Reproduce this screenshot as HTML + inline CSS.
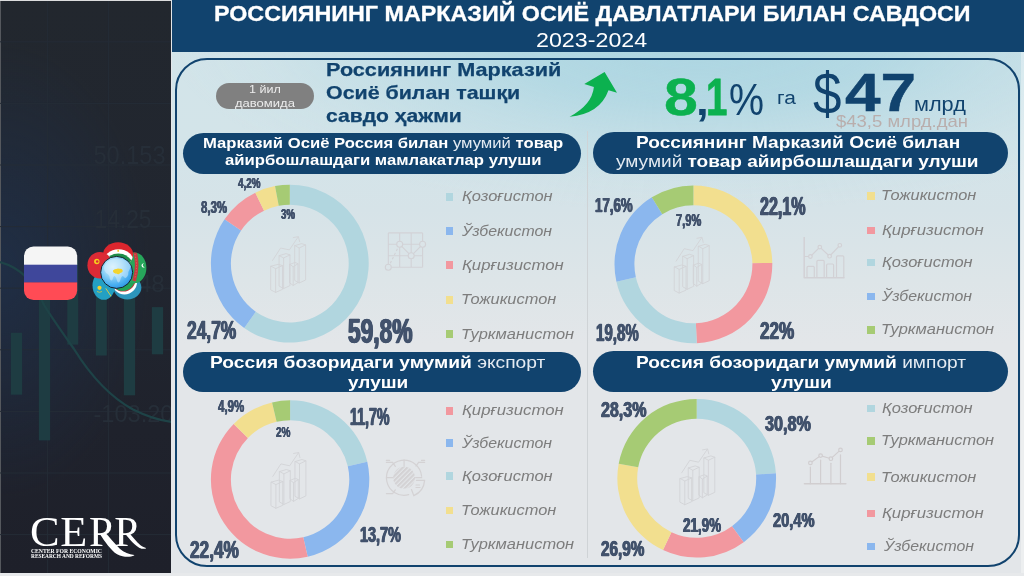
<!DOCTYPE html><html><head><meta charset="utf-8"><title>infographic</title><style>
html,body{margin:0;padding:0;overflow:hidden}body{width:1024px;height:576px;position:relative;overflow:hidden;background:#e3e6e9;font-family:"Liberation Sans",sans-serif}
.a{position:absolute}.pill{position:absolute;background:#11436e;border-radius:21px}
.sq{position:absolute;width:7.8px;height:7.8px}
</style></head><body><div style="position:absolute;left:0;top:0;width:1024px;height:576px;will-change:transform">
<div class="a" style="left:171.5px;top:0;width:852.5px;height:576px;background:radial-gradient(ellipse 530px 172px at 525px 40px,rgba(166,211,224,.88) 0,rgba(167,212,225,.70) 36%,rgba(170,213,226,.40) 58%,rgba(174,215,227,.12) 82%,rgba(176,215,226,0) 100%),linear-gradient(180deg,#d2e4e9 0,#d3e4e9 150px,#d6e3e8 210px,#dde5e8 280px,#e3e6e9 345px,#e3e6e9 100%)"></div>
<div class="a" style="left:1021px;top:52px;width:3px;height:524px;background:rgba(255,255,255,.35)"></div>
<div class="a" style="left:171.5px;top:573px;width:853px;height:3px;background:rgba(255,255,255,.35)"></div>
<div class="a" style="left:0;top:0;width:171.3px;height:576px;background:#dcddde"></div>
<div class="a" style="left:0;top:573.3px;width:1024px;height:3px;background:#e7e9eb"></div>
<div class="a" style="left:0;top:1px;width:171.3px;height:572.3px;background:radial-gradient(ellipse 150px 230px at 0px 270px,rgba(30,54,90,.5) 0,rgba(30,54,90,.25) 50%,rgba(30,54,90,0) 100%),linear-gradient(180deg,#22272e 0,#212630 45%,#1f222c 75%,#1e202a 100%)"></div>
<div class="a" style="left:0;top:1px;width:0.9px;height:572.3px;background:#55585d"></div>
<svg class="a" style="left:0;top:0" width="171.3" height="573.3" viewBox="0 0 171.3 573.3"><g stroke="#242c36" stroke-width="1"><path d="M47.6,1V573"/><path d="M108.4,1V573"/><path d="M0,41.8H171"/><path d="M0,103.4H171"/><path d="M0,165.0H171"/><path d="M0,226.6H171"/><path d="M0,288.2H171"/><path d="M0,349.8H171"/><path d="M0,411.4H171"/><path d="M0,473.0H171"/><path d="M0,534.6H171"/></g>
<g font-family="'Liberation Sans',sans-serif" fill="#262e38" font-size="25"><text x="93.5" y="163.9" textLength="72" lengthAdjust="spacingAndGlyphs">50.153</text><text x="94.5" y="228.5" textLength="57" lengthAdjust="spacingAndGlyphs">14.25</text><text x="138" y="292" font-size="24">48</text><text x="93.5" y="422.5" font-size="23" textLength="80" lengthAdjust="spacingAndGlyphs">-103.20</text></g>
<rect x="10.9" y="332.8" width="11.2" height="61.9" fill="#1e3c42"/>
<rect x="38.9" y="255.0" width="11.2" height="185.4" fill="#1e3c42"/>
<rect x="67.3" y="260.0" width="10.9" height="84.6" fill="#1e3c42"/>
<rect x="95.9" y="262.0" width="10.9" height="93.5" fill="#1e3c42"/>
<rect x="123.9" y="270.0" width="11.2" height="125.3" fill="#1e3c42"/>
<rect x="151.9" y="307.1" width="11.2" height="47.2" fill="#1e3c42"/>
<path d="M0,262 C22,268 36,285 44,305 C52,318 62,332 74,349 C92,378 112,398 133,409.5 C148,417 160,420.5 172,422" fill="none" stroke="#1e4347" stroke-width="2.3"/>
<clipPath id="fl"><rect x="24" y="246.5" width="53.2" height="53.6" rx="9.5"/></clipPath><g clip-path="url(#fl)"><rect x="24" y="246" width="54" height="19" fill="#f5f5f5"/><rect x="24" y="264.7" width="54" height="18" fill="#3f479b"/><rect x="24" y="282.4" width="54" height="18" fill="#ff4b55"/></g>
<clipPath id="pu"><ellipse cx="127.4" cy="287.6" rx="14" ry="11.8"/></clipPath><g clip-path="url(#pu)"><rect x="110" y="270" width="36" height="36" fill="#2c95bb"/><circle cx="124.5" cy="281.8" r="12.6" fill="#fff"/><circle cx="123.2" cy="279.2" r="12.4" fill="#c8343c"/><circle cx="122.8" cy="278.6" r="12.3" fill="#23a257"/></g>
<clipPath id="pk"><ellipse cx="103.8" cy="285.6" rx="11.3" ry="14.2"/></clipPath><g clip-path="url(#pk)"><rect x="88" y="270" width="32" height="32" fill="#24a0c3"/><circle cx="99.5" cy="287.8" r="2.1" fill="#f4d32b"/><path d="M97,291.5 q2.5,1.6 5,0" stroke="#f4d32b" stroke-width="0.7" fill="none"/><path d="M105.8,288.4 L112,297.6" stroke="#e8d03a" stroke-width="0.9" fill="none"/></g>
<clipPath id="pt"><ellipse cx="134.4" cy="267.8" rx="12" ry="15.4"/></clipPath><g clip-path="url(#pt)"><rect x="120" y="252" width="30" height="32" fill="#27a65b"/><path d="M134.6,251 q4.5,14 -0.5,30" stroke="#c8383e" stroke-width="3.6" fill="none"/><path d="M134.9,254 q3.2,12 0,24" stroke="#e07a70" stroke-width="0.8" stroke-dasharray="1.2 1.6" fill="none"/><path d="M144.2,263.6 a2,2 0 1 0 0.6,3.4 a1.6,1.6 0 1 1 -0.6,-3.4z" fill="#fff"/></g>
<clipPath id="pj"><ellipse cx="118.1" cy="254.6" rx="15" ry="12.4"/></clipPath><g clip-path="url(#pj)"><rect x="100" y="240" width="36" height="34" fill="#dc262e"/><ellipse cx="118.6" cy="262.8" rx="15.5" ry="13.6" fill="#fff"/><ellipse cx="118.4" cy="266.6" rx="14.6" ry="13" fill="#1e8d49"/><path d="M117.4,250.6 l0.8,-1.4 l0.8,1.4z" fill="#f0c419"/><circle cx="118.2" cy="250.9" r="0.9" fill="#f0c419"/></g>
<clipPath id="pg"><ellipse cx="99.8" cy="265.2" rx="12.4" ry="13.3"/></clipPath><g clip-path="url(#pg)"><rect x="84" y="250" width="32" height="32" fill="#dc2a35"/><circle cx="96.8" cy="261.5" r="2.7" fill="#f6d01c"/><circle cx="97.2" cy="261.5" r="1.3" fill="#dc2a35"/></g>
<radialGradient id="gl" cx="0.38" cy="0.33" r="0.8"><stop offset="0" stop-color="#d6f1fd"/><stop offset="0.35" stop-color="#9bd8f8"/><stop offset="0.7" stop-color="#48aef0"/><stop offset="1" stop-color="#1c87de"/></radialGradient><circle cx="116.66" cy="272.4" r="16" fill="url(#gl)" stroke="#17222a" stroke-width="1"/><path d="M104.2,266.5 q1.5,-4.5 6,-6.5 q5,-2.5 10.5,-1.2 q6,1 9.5,5.5 q1.2,2.5 -0.5,5 q-1.8,2.5 -1.5,5.5 q-1,3 -3.2,3.5 q-0.8,-2 -2.8,-2.3 q-1.8,2 -2.2,5 q-1.2,2.8 -2.8,0.2 q-0.6,-3.2 -2.6,-5.4 q-1.6,0.8 -2,3.6 q-1.6,2.6 -2.8,-0.6 q0.2,-3 -1.8,-4.6 q-2.6,-1.4 -3.6,-4 q-0.6,-2 -0.2,-3.7z" fill="#e4f5fe" opacity="0.45"/><path d="M113,270.6 q1.2,-1.8 3.4,-1.6 q1.4,-1 2.8,-0.2 q2.4,-0.4 3.4,1.2 q0.6,1.6 -1,2.6 q-1.6,0.4 -2.4,1.4 q-1.6,0.8 -2.6,-0.4 q-1.8,0.2 -2.8,-0.8 q-1,-1 -0.8,-2.2z" fill="#f3d42f"/>
<g fill="#fff" font-family="'Liberation Serif',serif"><text y="546.2" font-size="43"><tspan x="29.9" textLength="29.6" lengthAdjust="spacingAndGlyphs">C</tspan><tspan x="60.3" textLength="27" lengthAdjust="spacingAndGlyphs">E</tspan><tspan x="88.9">P</tspan><tspan x="114.2">P</tspan></text><path d="M104.9,532.6 C109,536.5 114,543 119.8,548.8 C124,552.5 129,554.5 134.2,554.9 L134.2,555.4 C130,557.2 124,557.5 117.1,554.2 C111,550.5 104.5,541 99.9,533.9 Z"/><path d="M129.7,533.6 C132.5,537 136.5,542 140.5,545.2 C142.5,546.6 144.5,547.5 146,547.9 L146,548.6 C143.5,549 141,548.7 139.6,547.9 C136,546 129.5,539.5 125.6,534.2 Z"/><rect x="30" y="548" width="73" height="11.3" fill="#1f222c"/><text x="31" y="552.8" font-size="6.3" font-weight="700" textLength="71" lengthAdjust="spacingAndGlyphs">CENTER FOR ECONOMIC</text><text x="31" y="558.4" font-size="6.3" font-weight="700" textLength="71" lengthAdjust="spacingAndGlyphs">RESEARCH AND REFORMS</text></g></svg>
<div class="a" style="left:171.5px;top:0;width:852.5px;height:51.7px;background:#11436e"></div>
<div class="a" style="left:174.6px;top:58px;width:841.7px;height:505.3px;border:2px solid #11436e;border-radius:32px"></div>
<div class="a" style="left:587.3px;top:131px;width:1px;height:427px;background:#cfd3d6"></div>
<div class="a" style="left:215.5px;top:82.9px;width:98.4px;height:26.4px;border-radius:13.2px;background:#808080"></div>
<div class="pill" style="left:183.2px;top:132.8px;width:397.6px;height:40.8px"></div>
<div class="pill" style="left:593.2px;top:132.1px;width:414.4px;height:41.6px"></div>
<div class="pill" style="left:182.6px;top:352.2px;width:398.6px;height:40.1px"></div>
<div class="pill" style="left:593.2px;top:351.2px;width:414.4px;height:40.8px"></div>
<svg class="a" style="left:0;top:0" width="1024" height="576" viewBox="0 0 1024 576"><path d="M289.80,184.70 A78.90,78.90 0 1 1 244.23,328.01 L255.78,311.68 A58.90,58.90 0 1 0 289.80,204.70 Z" fill="#b1d6df"/>
<path d="M244.23,328.01 A78.90,78.90 0 0 1 224.54,219.25 L241.08,230.49 A58.90,58.90 0 0 0 255.78,311.68 Z" fill="#8bb7ee"/>
<path d="M224.54,219.25 A78.90,78.90 0 0 1 255.31,192.64 L264.05,210.63 A58.90,58.90 0 0 0 241.08,230.49 Z" fill="#f2989f"/>
<path d="M255.31,192.64 A78.90,78.90 0 0 1 275.02,186.10 L278.76,205.74 A58.90,58.90 0 0 0 264.05,210.63 Z" fill="#f2df8f"/>
<path d="M275.02,186.10 A78.90,78.90 0 0 1 289.80,184.70 L289.80,204.70 A58.90,58.90 0 0 0 278.76,205.74 Z" fill="#a6cb74"/>
<path d="M693.40,185.40 A78.90,78.90 0 0 1 772.29,262.91 L752.39,263.26 A59.00,59.00 0 0 0 693.40,205.30 Z" fill="#f2df8f"/>
<path d="M772.29,262.91 A78.90,78.90 0 0 1 696.73,343.13 L695.89,323.25 A59.00,59.00 0 0 0 752.39,263.26 Z" fill="#f2989f"/>
<path d="M696.73,343.13 A78.90,78.90 0 0 1 616.43,281.63 L635.84,277.26 A59.00,59.00 0 0 0 695.89,323.25 Z" fill="#b1d6df"/>
<path d="M616.43,281.63 A78.90,78.90 0 0 1 651.81,197.25 L662.30,214.16 A59.00,59.00 0 0 0 635.84,277.26 Z" fill="#8bb7ee"/>
<path d="M651.81,197.25 A78.90,78.90 0 0 1 693.40,185.40 L693.40,205.30 A59.00,59.00 0 0 0 662.30,214.16 Z" fill="#a6cb74"/>
<path d="M290.10,400.30 A79.20,79.20 0 0 1 367.27,461.69 L347.78,466.18 A59.20,59.20 0 0 0 290.10,420.30 Z" fill="#b1d6df"/>
<path d="M367.27,461.69 A79.20,79.20 0 0 1 307.69,556.72 L303.25,537.22 A59.20,59.20 0 0 0 347.78,466.18 Z" fill="#8bb7ee"/>
<path d="M307.69,556.72 A79.20,79.20 0 0 1 233.70,423.90 L247.94,437.94 A59.20,59.20 0 0 0 303.25,537.22 Z" fill="#f2989f"/>
<path d="M233.70,423.90 A79.20,79.20 0 0 1 272.06,402.38 L276.62,421.86 A59.20,59.20 0 0 0 247.94,437.94 Z" fill="#f2df8f"/>
<path d="M272.06,402.38 A79.20,79.20 0 0 1 290.10,400.30 L290.10,420.30 A59.20,59.20 0 0 0 276.62,421.86 Z" fill="#a6cb74"/>
<path d="M696.70,398.90 A79.35,79.35 0 0 1 775.90,473.30 L756.08,474.54 A59.50,59.50 0 0 0 696.70,418.75 Z" fill="#b1d6df"/>
<path d="M775.90,473.30 A79.35,79.35 0 0 1 743.72,542.17 L731.96,526.18 A59.50,59.50 0 0 0 756.08,474.54 Z" fill="#8bb7ee"/>
<path d="M743.72,542.17 A79.35,79.35 0 0 1 663.02,550.10 L671.45,532.13 A59.50,59.50 0 0 0 731.96,526.18 Z" fill="#f2989f"/>
<path d="M663.02,550.10 A79.35,79.35 0 0 1 618.70,463.66 L638.21,467.31 A59.50,59.50 0 0 0 671.45,532.13 Z" fill="#f2df8f"/>
<path d="M618.70,463.66 A79.35,79.35 0 0 1 696.70,398.90 L696.70,418.75 A59.50,59.50 0 0 0 638.21,467.31 Z" fill="#a6cb74"/>
<g transform="translate(289.8,263.6)" fill="none" stroke="#d3d4d7" stroke-width="0.9" stroke-linejoin="round" stroke-linecap="round"><path d="M5.2,-18.0 L9.4,-15.6 L9.4,19.4 L5.2,17.0 Z"/><path d="M9.4,-15.6 L15.8,-18.7 L15.8,16.4 L9.4,19.4"/><path d="M5.2,-18.0 L11.8,-20.0 L15.8,-18.7"/><path d="M0.2,0.8 L3.4,3.2 L3.4,21.9 L0.2,19.5 Z"/><path d="M3.4,3.2 L8.2,0.1 L8.2,18.9 L3.4,21.9"/><path d="M0.2,0.8 L5.2,-1.2 L8.2,0.1"/><path d="M-10.4,-8.0 L-6.2,-5.6 L-6.2,25.0 L-10.4,22.6 Z"/><path d="M-6.2,-5.6 L0.2,-8.7 L0.2,22.0 L-6.2,25.0"/><path d="M-10.4,-8.0 L-3.8,-10.0 L0.2,-8.7"/><path d="M-18.8,2.6 L-14.2,5.1 L-14.2,28.8 L-18.8,26.4 Z"/><path d="M-14.2,5.1 L-7.3,2.0 L-7.3,25.8 L-14.2,28.8"/><path d="M-18.8,2.6 L-11.7,0.7 L-7.3,2.0"/><path d="M-17.3,-3.1 L-9.2,-15.6 L-0.4,-13.7 L8.3,-26.6"/><path d="M3.5,-26 L8.6,-27 L9.8,-22"/></g>
<g transform="translate(693.4,264.3)" fill="none" stroke="#d3d4d7" stroke-width="0.9" stroke-linejoin="round" stroke-linecap="round"><path d="M5.2,-18.0 L9.4,-15.6 L9.4,19.4 L5.2,17.0 Z"/><path d="M9.4,-15.6 L15.8,-18.7 L15.8,16.4 L9.4,19.4"/><path d="M5.2,-18.0 L11.8,-20.0 L15.8,-18.7"/><path d="M0.2,0.8 L3.4,3.2 L3.4,21.9 L0.2,19.5 Z"/><path d="M3.4,3.2 L8.2,0.1 L8.2,18.9 L3.4,21.9"/><path d="M0.2,0.8 L5.2,-1.2 L8.2,0.1"/><path d="M-10.4,-8.0 L-6.2,-5.6 L-6.2,25.0 L-10.4,22.6 Z"/><path d="M-6.2,-5.6 L0.2,-8.7 L0.2,22.0 L-6.2,25.0"/><path d="M-10.4,-8.0 L-3.8,-10.0 L0.2,-8.7"/><path d="M-18.8,2.6 L-14.2,5.1 L-14.2,28.8 L-18.8,26.4 Z"/><path d="M-14.2,5.1 L-7.3,2.0 L-7.3,25.8 L-14.2,28.8"/><path d="M-18.8,2.6 L-11.7,0.7 L-7.3,2.0"/><path d="M-17.3,-3.1 L-9.2,-15.6 L-0.4,-13.7 L8.3,-26.6"/><path d="M3.5,-26 L8.6,-27 L9.8,-22"/></g>
<g transform="translate(290.1,479.5)" fill="none" stroke="#d3d4d7" stroke-width="0.9" stroke-linejoin="round" stroke-linecap="round"><path d="M5.2,-18.0 L9.4,-15.6 L9.4,19.4 L5.2,17.0 Z"/><path d="M9.4,-15.6 L15.8,-18.7 L15.8,16.4 L9.4,19.4"/><path d="M5.2,-18.0 L11.8,-20.0 L15.8,-18.7"/><path d="M0.2,0.8 L3.4,3.2 L3.4,21.9 L0.2,19.5 Z"/><path d="M3.4,3.2 L8.2,0.1 L8.2,18.9 L3.4,21.9"/><path d="M0.2,0.8 L5.2,-1.2 L8.2,0.1"/><path d="M-10.4,-8.0 L-6.2,-5.6 L-6.2,25.0 L-10.4,22.6 Z"/><path d="M-6.2,-5.6 L0.2,-8.7 L0.2,22.0 L-6.2,25.0"/><path d="M-10.4,-8.0 L-3.8,-10.0 L0.2,-8.7"/><path d="M-18.8,2.6 L-14.2,5.1 L-14.2,28.8 L-18.8,26.4 Z"/><path d="M-14.2,5.1 L-7.3,2.0 L-7.3,25.8 L-14.2,28.8"/><path d="M-18.8,2.6 L-11.7,0.7 L-7.3,2.0"/><path d="M-17.3,-3.1 L-9.2,-15.6 L-0.4,-13.7 L8.3,-26.6"/><path d="M3.5,-26 L8.6,-27 L9.8,-22"/></g>
<g transform="translate(699.0,475.9)" fill="none" stroke="#d3d4d7" stroke-width="0.9" stroke-linejoin="round" stroke-linecap="round"><path d="M5.2,-18.0 L9.4,-15.6 L9.4,19.4 L5.2,17.0 Z"/><path d="M9.4,-15.6 L15.8,-18.7 L15.8,16.4 L9.4,19.4"/><path d="M5.2,-18.0 L11.8,-20.0 L15.8,-18.7"/><path d="M0.2,0.8 L3.4,3.2 L3.4,21.9 L0.2,19.5 Z"/><path d="M3.4,3.2 L8.2,0.1 L8.2,18.9 L3.4,21.9"/><path d="M0.2,0.8 L5.2,-1.2 L8.2,0.1"/><path d="M-10.4,-8.0 L-6.2,-5.6 L-6.2,25.0 L-10.4,22.6 Z"/><path d="M-6.2,-5.6 L0.2,-8.7 L0.2,22.0 L-6.2,25.0"/><path d="M-10.4,-8.0 L-3.8,-10.0 L0.2,-8.7"/><path d="M-18.8,2.6 L-14.2,5.1 L-14.2,28.8 L-18.8,26.4 Z"/><path d="M-14.2,5.1 L-7.3,2.0 L-7.3,25.8 L-14.2,28.8"/><path d="M-18.8,2.6 L-11.7,0.7 L-7.3,2.0"/><path d="M-17.3,-3.1 L-9.2,-15.6 L-0.4,-13.7 L8.3,-26.6"/><path d="M3.5,-26 L8.6,-27 L9.8,-22"/></g>
<g fill="none" stroke="#d2d2d6" stroke-width="1.1"><path d="M388.3,232.9V267.2M388.3,232.9H422.6M399.7,232.9V267.2M388.3,244.3H422.6M411.2,232.9V267.2M388.3,255.8H422.6M422.6,232.9V267.2M388.3,267.2H422.6"/><path d="M388.3,267.2 L399.7,244.3" stroke-dasharray="2.5 2"/><path d="M399.7,244.3 L411.2,255.8 L422.6,244.3"/><circle cx="388.3" cy="267.2" r="3" fill="#dbe4e8"/><circle cx="399.7" cy="244.3" r="3" fill="#dbe4e8"/><circle cx="411.2" cy="255.8" r="3" fill="#dbe4e8"/><circle cx="422.6" cy="244.3" r="3" fill="#dbe4e8"/></g>
<g fill="none" stroke="#d2d1d5" stroke-width="1.2" stroke-linejoin="round"><path d="M804.2,236.9V277.8H844.5" stroke-width="1.5"/><path d="M807.0,277.8V267.6q0,-1.2 1.2,-1.2H813.1q1.2,0 1.2,1.2V277.8"/><path d="M816.9,277.8V261.6q0,-1.2 1.2,-1.2H823.0q1.2,0 1.2,1.2V277.8"/><path d="M826.6,277.8V265.2q0,-1.2 1.2,-1.2H832.4q1.2,0 1.2,1.2V277.8"/><path d="M836.5,277.8V257.1q0,-1.2 1.2,-1.2H842.6q1.2,0 1.2,1.2V277.8"/><path d="M804.2,256.5 L810.4,256.5 L819.8,247.1 L829.6,256.2 L839.8,245.3"/><circle cx="810.4" cy="256.5" r="1.8" fill="#dde5e8"/><circle cx="819.8" cy="247.1" r="1.8" fill="#dde5e8"/><circle cx="829.6" cy="256.2" r="1.8" fill="#dde5e8"/><circle cx="839.8" cy="245.3" r="1.8" fill="#dde5e8"/></g>
<g fill="none" stroke="#d4d2d4" stroke-width="1.2" stroke-linecap="round"><defs><pattern id="hat" width="3.2" height="3.2" patternUnits="userSpaceOnUse" patternTransform="rotate(-45)"><rect width="3.2" height="1.5" fill="#d3d2d5"/></pattern></defs><circle cx="404.1" cy="477.7" r="10.9" fill="url(#hat)" stroke="none"/><path d="M421.6,476.2 A17.6,17.6 0 1 0 408.7,494.7"/><path d="M404.1,460.1V466.2 M386.5,477.7H392.6 M415.6,477.7H421.7"/><path d="M411.5,489.5 L413.8,495.6 A18,18 0 0 0 424.6,480.4 L416.5,480.4"/><path d="M386.4,460.4H389.6 M386.4,462.4H392.6L395.3,466.4 M421.5,460.4H424.6 M418.6,462.4H424.6 M418.6,462.4L416,466 M386.4,493.6H392.6L395.3,489.8 M416,485H419.5 M416,487.5H420"/></g>
<g fill="none" stroke="#d1ced0" stroke-width="1.2" stroke-linecap="round"><path d="M804.5,483.7H845.8" stroke-width="1.6"/><path d="M810.4,467.2V483.7"/><path d="M820.6,460.2V483.7"/><path d="M830.9,463.3V483.7"/><path d="M840.5,454.8V483.7"/><path d="M810.4,462.9 L820.6,455.6 L830.9,458.7 L840.5,449.9"/><circle cx="810.4" cy="462.9" r="1.8" fill="#e2e5e8"/><circle cx="820.6" cy="455.6" r="1.8" fill="#e2e5e8"/><circle cx="830.9" cy="458.7" r="1.8" fill="#e2e5e8"/><circle cx="840.5" cy="449.9" r="1.8" fill="#e2e5e8"/></g>
<path d="M604.6,71.9 L617,92.7 L608.5,90.3 Q600,114 569.6,116.8 Q592,105 593.9,87.1 L584.3,83.9 Z" fill="#0cb14f"/></svg>
<div class="sq" style="left:445.7px;top:192.8px;background:#b1d6df"></div>
<div class="sq" style="left:445.7px;top:227.3px;background:#8bb7ee"></div>
<div class="sq" style="left:445.7px;top:261.3px;background:#f2989f"></div>
<div class="sq" style="left:445.7px;top:296.1px;background:#f2df8f"></div>
<div class="sq" style="left:445.7px;top:330.4px;background:#a6cb74"></div>
<div class="sq" style="left:867.0px;top:192.1px;background:#f2df8f"></div>
<div class="sq" style="left:867.0px;top:226.7px;background:#f2989f"></div>
<div class="sq" style="left:867.0px;top:258.6px;background:#b1d6df"></div>
<div class="sq" style="left:867.0px;top:292.6px;background:#8bb7ee"></div>
<div class="sq" style="left:867.0px;top:326.0px;background:#a6cb74"></div>
<div class="sq" style="left:445.7px;top:406.9px;background:#f2989f"></div>
<div class="sq" style="left:445.7px;top:439.4px;background:#8bb7ee"></div>
<div class="sq" style="left:445.7px;top:472.4px;background:#b1d6df"></div>
<div class="sq" style="left:445.7px;top:506.7px;background:#f2df8f"></div>
<div class="sq" style="left:445.7px;top:540.7px;background:#a6cb74"></div>
<div class="sq" style="left:867.0px;top:404.5px;background:#b1d6df"></div>
<div class="sq" style="left:867.0px;top:437.0px;background:#a6cb74"></div>
<div class="sq" style="left:867.0px;top:473.3px;background:#f2df8f"></div>
<div class="sq" style="left:867.0px;top:509.6px;background:#f2989f"></div>
<div class="sq" style="left:867.0px;top:542.7px;background:#8bb7ee"></div>
<span style="position:absolute;white-space:nowrap;line-height:1;transform-origin:0 0;left:213.53px;top:2.70px;font-family:'Liberation Sans',sans-serif;font-size:21.80px;font-weight:700;color:#fff;-webkit-text-stroke:0.30px #fff;transform:scaleX(1.0686);">РОССИЯНИНГ МАРКАЗИЙ ОСИЁ ДАВЛАТЛАРИ БИЛАН САВДОСИ</span>
<span style="position:absolute;white-space:nowrap;line-height:1;transform-origin:0 0;left:535.87px;top:29.50px;font-family:'Liberation Sans',sans-serif;font-size:20.50px;font-weight:400;color:#fff;transform:scaleX(1.1340);">2023-2024</span>
<span style="position:absolute;white-space:nowrap;line-height:1;transform-origin:0 0;left:248.72px;top:82.50px;font-family:'Liberation Sans',sans-serif;font-size:11.70px;font-weight:400;color:#ececec;transform:scaleX(1.0786);">1 йил</span>
<span style="position:absolute;white-space:nowrap;line-height:1;transform-origin:0 0;left:234.80px;top:96.50px;font-family:'Liberation Sans',sans-serif;font-size:11.70px;font-weight:400;color:#ececec;transform:scaleX(1.1148);">давомида</span>
<span style="position:absolute;white-space:nowrap;line-height:1;transform-origin:0 0;left:325.53px;top:61.30px;font-family:'Liberation Sans',sans-serif;font-size:18.50px;font-weight:700;color:#11436e;-webkit-text-stroke:0.25px #11436e;transform:scaleX(1.1693);">Россиянинг Марказий</span>
<span style="position:absolute;white-space:nowrap;line-height:1;transform-origin:0 0;left:325.54px;top:84.40px;font-family:'Liberation Sans',sans-serif;font-size:18.50px;font-weight:700;color:#11436e;-webkit-text-stroke:0.25px #11436e;transform:scaleX(1.1560);">Осиё билан ташқи</span>
<span style="position:absolute;white-space:nowrap;line-height:1;transform-origin:0 0;left:325.56px;top:107.00px;font-family:'Liberation Sans',sans-serif;font-size:18.50px;font-weight:700;color:#11436e;-webkit-text-stroke:0.25px #11436e;transform:scaleX(1.1393);">савдо ҳажми</span>
<span style="position:absolute;white-space:nowrap;line-height:1;transform-origin:0 0;left:664.34px;top:70.80px;font-family:'Liberation Sans',sans-serif;font-size:52.50px;font-weight:700;color:#0cb14f;-webkit-text-stroke:0.40px #0cb14f;transform:scaleX(1.1593);">8</span>
<span style="position:absolute;white-space:nowrap;line-height:1;transform-origin:0 0;left:696.25px;top:80.80px;font-family:'Liberation Sans',sans-serif;font-size:41.00px;font-weight:700;color:#11436e;transform:scaleX(1.1167);">,</span>
<span style="position:absolute;white-space:nowrap;line-height:1;transform-origin:0 0;left:705.80px;top:70.80px;font-family:'Liberation Sans',sans-serif;font-size:52.50px;font-weight:700;color:#0cb14f;-webkit-text-stroke:0.80px #0cb14f;transform:scaleX(0.7320);">1</span>
<span style="position:absolute;white-space:nowrap;line-height:1;transform-origin:0 0;left:728.81px;top:77.80px;font-family:'Liberation Sans',sans-serif;font-size:44.00px;font-weight:400;color:#11436e;transform:scaleX(0.8944);">%</span>
<span style="position:absolute;white-space:nowrap;line-height:1;transform-origin:0 0;left:777.04px;top:89.00px;font-family:'Liberation Sans',sans-serif;font-size:18.00px;font-weight:400;color:#11436e;transform:scaleX(1.1600);">га</span>
<span style="position:absolute;white-space:nowrap;line-height:1;transform-origin:0 0;left:812.83px;top:65.00px;font-family:'Liberation Sans',sans-serif;font-size:58.50px;font-weight:400;color:#11436e;transform:scaleX(0.8742);">$</span>
<span style="position:absolute;white-space:nowrap;line-height:1;transform-origin:0 0;left:844.50px;top:66.30px;font-family:'Liberation Sans',sans-serif;font-size:53.50px;font-weight:700;color:#11436e;-webkit-text-stroke:0.50px #11436e;transform:scaleX(1.1948);">47</span>
<span style="position:absolute;white-space:nowrap;line-height:1;transform-origin:0 0;left:913.74px;top:94.30px;font-family:'Liberation Sans',sans-serif;font-size:20.50px;font-weight:400;color:#11436e;transform:scaleX(1.0583);">млрд</span>
<span style="position:absolute;white-space:nowrap;line-height:1;transform-origin:0 0;left:836.10px;top:112.90px;font-family:'Liberation Sans',sans-serif;font-size:17.00px;font-weight:400;color:#b9aead;transform:scaleX(1.0875);">$43,5 млрд.дан</span>
<span style="position:absolute;white-space:nowrap;line-height:1;transform-origin:0 0;left:203.13px;top:135.60px;font-family:'Liberation Sans',sans-serif;font-size:14.20px;font-weight:700;color:#fff;transform:scaleX(1.1741);">Марказий Осиё Россия билан <span style="font-weight:400;color:#e4ebf2">умумий</span> товар</span>
<span style="position:absolute;white-space:nowrap;line-height:1;transform-origin:0 0;left:225.00px;top:152.80px;font-family:'Liberation Sans',sans-serif;font-size:14.20px;font-weight:700;color:#fff;transform:scaleX(1.1754);">айирбошлашдаги мамлакатлар улуши</span>
<span style="position:absolute;white-space:nowrap;line-height:1;transform-origin:0 0;left:635.58px;top:134.50px;font-family:'Liberation Sans',sans-serif;font-size:15.70px;font-weight:700;color:#fff;transform:scaleX(1.2182);">Россиянинг Марказий Осиё билан</span>
<span style="position:absolute;white-space:nowrap;line-height:1;transform-origin:0 0;left:616.20px;top:153.80px;font-family:'Liberation Sans',sans-serif;font-size:15.70px;font-weight:700;color:#fff;transform:scaleX(1.2134);"><span style="font-weight:400;color:#e4ebf2">умумий</span> товар айирбошлашдаги улуши</span>
<span style="position:absolute;white-space:nowrap;line-height:1;transform-origin:0 0;left:209.78px;top:354.60px;font-family:'Liberation Sans',sans-serif;font-size:15.70px;font-weight:700;color:#fff;transform:scaleX(1.2242);">Россия бозоридаги умумий <span style="font-weight:400;color:#e4ebf2">экспорт</span></span>
<span style="position:absolute;white-space:nowrap;line-height:1;transform-origin:0 0;left:348.30px;top:375.00px;font-family:'Liberation Sans',sans-serif;font-size:15.70px;font-weight:700;color:#fff;transform:scaleX(1.2122);">улуши</span>
<span style="position:absolute;white-space:nowrap;line-height:1;transform-origin:0 0;left:636.08px;top:354.60px;font-family:'Liberation Sans',sans-serif;font-size:15.70px;font-weight:700;color:#fff;transform:scaleX(1.2196);">Россия бозоридаги умумий <span style="font-weight:400;color:#e4ebf2">импорт</span></span>
<span style="position:absolute;white-space:nowrap;line-height:1;transform-origin:0 0;left:771.40px;top:375.00px;font-family:'Liberation Sans',sans-serif;font-size:15.70px;font-weight:700;color:#fff;transform:scaleX(1.2224);">улуши</span>
<span style="position:absolute;white-space:nowrap;line-height:1;transform-origin:0 0;left:461.60px;top:188.00px;font-family:'Liberation Sans',sans-serif;font-size:15.00px;font-weight:400;color:#7d7d7d;font-style:italic;transform:scaleX(1.0976);">Қозоғистон</span>
<span style="position:absolute;white-space:nowrap;line-height:1;transform-origin:0 0;left:461.60px;top:222.50px;font-family:'Liberation Sans',sans-serif;font-size:15.00px;font-weight:400;color:#7d7d7d;font-style:italic;transform:scaleX(1.0588);">Ўзбекистон</span>
<span style="position:absolute;white-space:nowrap;line-height:1;transform-origin:0 0;left:461.60px;top:256.50px;font-family:'Liberation Sans',sans-serif;font-size:15.00px;font-weight:400;color:#7d7d7d;font-style:italic;transform:scaleX(1.1143);">Қирғизистон</span>
<span style="position:absolute;white-space:nowrap;line-height:1;transform-origin:0 0;left:460.51px;top:291.30px;font-family:'Liberation Sans',sans-serif;font-size:15.00px;font-weight:400;color:#7d7d7d;font-style:italic;transform:scaleX(1.0930);">Тожикистон</span>
<span style="position:absolute;white-space:nowrap;line-height:1;transform-origin:0 0;left:460.50px;top:325.60px;font-family:'Liberation Sans',sans-serif;font-size:15.00px;font-weight:400;color:#7d7d7d;font-style:italic;transform:scaleX(1.0951);">Туркманистон</span>
<span style="position:absolute;white-space:nowrap;line-height:1;transform-origin:0 0;left:881.31px;top:187.30px;font-family:'Liberation Sans',sans-serif;font-size:15.00px;font-weight:400;color:#7d7d7d;font-style:italic;transform:scaleX(1.0930);">Тожикистон</span>
<span style="position:absolute;white-space:nowrap;line-height:1;transform-origin:0 0;left:882.40px;top:221.90px;font-family:'Liberation Sans',sans-serif;font-size:15.00px;font-weight:400;color:#7d7d7d;font-style:italic;transform:scaleX(1.1143);">Қирғизистон</span>
<span style="position:absolute;white-space:nowrap;line-height:1;transform-origin:0 0;left:882.40px;top:253.80px;font-family:'Liberation Sans',sans-serif;font-size:15.00px;font-weight:400;color:#7d7d7d;font-style:italic;transform:scaleX(1.0976);">Қозоғистон</span>
<span style="position:absolute;white-space:nowrap;line-height:1;transform-origin:0 0;left:882.40px;top:287.80px;font-family:'Liberation Sans',sans-serif;font-size:15.00px;font-weight:400;color:#7d7d7d;font-style:italic;transform:scaleX(1.0588);">Ўзбекистон</span>
<span style="position:absolute;white-space:nowrap;line-height:1;transform-origin:0 0;left:881.30px;top:321.20px;font-family:'Liberation Sans',sans-serif;font-size:15.00px;font-weight:400;color:#7d7d7d;font-style:italic;transform:scaleX(1.0951);">Туркманистон</span>
<span style="position:absolute;white-space:nowrap;line-height:1;transform-origin:0 0;left:461.60px;top:402.10px;font-family:'Liberation Sans',sans-serif;font-size:15.00px;font-weight:400;color:#7d7d7d;font-style:italic;transform:scaleX(1.1143);">Қирғизистон</span>
<span style="position:absolute;white-space:nowrap;line-height:1;transform-origin:0 0;left:461.60px;top:434.60px;font-family:'Liberation Sans',sans-serif;font-size:15.00px;font-weight:400;color:#7d7d7d;font-style:italic;transform:scaleX(1.0588);">Ўзбекистон</span>
<span style="position:absolute;white-space:nowrap;line-height:1;transform-origin:0 0;left:461.60px;top:467.60px;font-family:'Liberation Sans',sans-serif;font-size:15.00px;font-weight:400;color:#7d7d7d;font-style:italic;transform:scaleX(1.0976);">Қозоғистон</span>
<span style="position:absolute;white-space:nowrap;line-height:1;transform-origin:0 0;left:460.51px;top:501.90px;font-family:'Liberation Sans',sans-serif;font-size:15.00px;font-weight:400;color:#7d7d7d;font-style:italic;transform:scaleX(1.0930);">Тожикистон</span>
<span style="position:absolute;white-space:nowrap;line-height:1;transform-origin:0 0;left:460.50px;top:535.90px;font-family:'Liberation Sans',sans-serif;font-size:15.00px;font-weight:400;color:#7d7d7d;font-style:italic;transform:scaleX(1.0951);">Туркманистон</span>
<span style="position:absolute;white-space:nowrap;line-height:1;transform-origin:0 0;left:882.40px;top:399.70px;font-family:'Liberation Sans',sans-serif;font-size:15.00px;font-weight:400;color:#7d7d7d;font-style:italic;transform:scaleX(1.0976);">Қозоғистон</span>
<span style="position:absolute;white-space:nowrap;line-height:1;transform-origin:0 0;left:881.30px;top:432.20px;font-family:'Liberation Sans',sans-serif;font-size:15.00px;font-weight:400;color:#7d7d7d;font-style:italic;transform:scaleX(1.0951);">Туркманистон</span>
<span style="position:absolute;white-space:nowrap;line-height:1;transform-origin:0 0;left:881.31px;top:468.50px;font-family:'Liberation Sans',sans-serif;font-size:15.00px;font-weight:400;color:#7d7d7d;font-style:italic;transform:scaleX(1.0930);">Тожикистон</span>
<span style="position:absolute;white-space:nowrap;line-height:1;transform-origin:0 0;left:882.40px;top:504.80px;font-family:'Liberation Sans',sans-serif;font-size:15.00px;font-weight:400;color:#7d7d7d;font-style:italic;transform:scaleX(1.1143);">Қирғизистон</span>
<span style="position:absolute;white-space:nowrap;line-height:1;transform-origin:0 0;left:884.40px;top:537.90px;font-family:'Liberation Sans',sans-serif;font-size:15.00px;font-weight:400;color:#7d7d7d;font-style:italic;transform:scaleX(1.0588);">Ўзбекистон</span>
<span style="position:absolute;white-space:nowrap;line-height:1;transform-origin:0 0;left:238.40px;top:174.90px;font-family:'Liberation Sans',sans-serif;font-size:15.04px;font-weight:700;color:#42526c;-webkit-text-stroke:0.18px #42526c;transform:scaleX(0.6543);text-shadow:0.46px 0 0 #42526c,-0.46px 0 0 #42526c;">4,2%</span>
<span style="position:absolute;white-space:nowrap;line-height:1;transform-origin:0 0;left:201.00px;top:200.30px;font-family:'Liberation Sans',sans-serif;font-size:16.74px;font-weight:700;color:#42526c;-webkit-text-stroke:0.20px #42526c;transform:scaleX(0.6842);text-shadow:0.49px 0 0 #42526c,-0.49px 0 0 #42526c;">8,3%</span>
<span style="position:absolute;white-space:nowrap;line-height:1;transform-origin:0 0;left:280.90px;top:207.20px;font-family:'Liberation Sans',sans-serif;font-size:14.75px;font-weight:700;color:#42526c;-webkit-text-stroke:0.18px #42526c;transform:scaleX(0.6545);text-shadow:0.45px 0 0 #42526c,-0.45px 0 0 #42526c;">3%</span>
<span style="position:absolute;white-space:nowrap;line-height:1;transform-origin:0 0;left:186.60px;top:317.80px;font-family:'Liberation Sans',sans-serif;font-size:25.96px;font-weight:700;color:#42526c;-webkit-text-stroke:0.31px #42526c;transform:scaleX(0.6703);text-shadow:0.77px 0 0 #42526c,-0.77px 0 0 #42526c;">24,7%</span>
<span style="position:absolute;white-space:nowrap;line-height:1;transform-origin:0 0;left:347.60px;top:314.20px;font-family:'Liberation Sans',sans-serif;font-size:34.61px;font-weight:700;color:#42526c;-webkit-text-stroke:0.42px #42526c;transform:scaleX(0.6571);text-shadow:1.05px 0 0 #42526c,-1.05px 0 0 #42526c;">59,8%</span>
<span style="position:absolute;white-space:nowrap;line-height:1;transform-origin:0 0;left:595.47px;top:194.30px;font-family:'Liberation Sans',sans-serif;font-size:21.13px;font-weight:700;color:#42526c;-webkit-text-stroke:0.25px #42526c;transform:scaleX(0.6288);text-shadow:0.67px 0 0 #42526c,-0.67px 0 0 #42526c;">17,6%</span>
<span style="position:absolute;white-space:nowrap;line-height:1;transform-origin:0 0;left:675.70px;top:211.60px;font-family:'Liberation Sans',sans-serif;font-size:17.02px;font-weight:700;color:#42526c;-webkit-text-stroke:0.20px #42526c;transform:scaleX(0.6513);text-shadow:0.52px 0 0 #42526c,-0.52px 0 0 #42526c;">7,9%</span>
<span style="position:absolute;white-space:nowrap;line-height:1;transform-origin:0 0;left:760.30px;top:193.80px;font-family:'Liberation Sans',sans-serif;font-size:25.67px;font-weight:700;color:#42526c;-webkit-text-stroke:0.31px #42526c;transform:scaleX(0.6260);text-shadow:0.82px 0 0 #42526c,-0.82px 0 0 #42526c;">22,1%</span>
<span style="position:absolute;white-space:nowrap;line-height:1;transform-origin:0 0;left:596.45px;top:322.00px;font-family:'Liberation Sans',sans-serif;font-size:23.12px;font-weight:700;color:#42526c;-webkit-text-stroke:0.28px #42526c;transform:scaleX(0.6523);text-shadow:0.71px 0 0 #42526c,-0.71px 0 0 #42526c;">19,8%</span>
<span style="position:absolute;white-space:nowrap;line-height:1;transform-origin:0 0;left:759.60px;top:319.20px;font-family:'Liberation Sans',sans-serif;font-size:24.11px;font-weight:700;color:#42526c;-webkit-text-stroke:0.29px #42526c;transform:scaleX(0.7104);text-shadow:0.68px 0 0 #42526c,-0.68px 0 0 #42526c;">22%</span>
<span style="position:absolute;white-space:nowrap;line-height:1;transform-origin:0 0;left:218.40px;top:399.00px;font-family:'Liberation Sans',sans-serif;font-size:16.67px;font-weight:700;color:#42526c;-webkit-text-stroke:0.20px #42526c;transform:scaleX(0.6921);text-shadow:0.48px 0 0 #42526c,-0.48px 0 0 #42526c;">4,9%</span>
<span style="position:absolute;white-space:nowrap;line-height:1;transform-origin:0 0;left:275.80px;top:425.40px;font-family:'Liberation Sans',sans-serif;font-size:14.04px;font-weight:700;color:#42526c;-webkit-text-stroke:0.17px #42526c;transform:scaleX(0.7150);text-shadow:0.39px 0 0 #42526c,-0.39px 0 0 #42526c;">2%</span>
<span style="position:absolute;white-space:nowrap;line-height:1;transform-origin:0 0;left:350.19px;top:406.20px;font-family:'Liberation Sans',sans-serif;font-size:23.33px;font-weight:700;color:#42526c;-webkit-text-stroke:0.28px #42526c;transform:scaleX(0.6094);text-shadow:0.77px 0 0 #42526c,-0.77px 0 0 #42526c;">11,7%</span>
<span style="position:absolute;white-space:nowrap;line-height:1;transform-origin:0 0;left:360.16px;top:524.20px;font-family:'Liberation Sans',sans-serif;font-size:22.41px;font-weight:700;color:#42526c;-webkit-text-stroke:0.27px #42526c;transform:scaleX(0.6444);text-shadow:0.70px 0 0 #42526c,-0.70px 0 0 #42526c;">13,7%</span>
<span style="position:absolute;white-space:nowrap;line-height:1;transform-origin:0 0;left:189.60px;top:538.20px;font-family:'Liberation Sans',sans-serif;font-size:24.11px;font-weight:700;color:#42526c;-webkit-text-stroke:0.29px #42526c;transform:scaleX(0.7145);text-shadow:0.67px 0 0 #42526c,-0.67px 0 0 #42526c;">22,4%</span>
<span style="position:absolute;white-space:nowrap;line-height:1;transform-origin:0 0;left:600.70px;top:397.90px;font-family:'Liberation Sans',sans-serif;font-size:22.70px;font-weight:700;color:#42526c;-webkit-text-stroke:0.27px #42526c;transform:scaleX(0.7062);text-shadow:0.64px 0 0 #42526c,-0.64px 0 0 #42526c;">28,3%</span>
<span style="position:absolute;white-space:nowrap;line-height:1;transform-origin:0 0;left:765.20px;top:412.60px;font-family:'Liberation Sans',sans-serif;font-size:22.27px;font-weight:700;color:#42526c;-webkit-text-stroke:0.27px #42526c;transform:scaleX(0.7254);text-shadow:0.61px 0 0 #42526c,-0.61px 0 0 #42526c;">30,8%</span>
<span style="position:absolute;white-space:nowrap;line-height:1;transform-origin:0 0;left:773.30px;top:510.20px;font-family:'Liberation Sans',sans-serif;font-size:20.71px;font-weight:700;color:#42526c;-webkit-text-stroke:0.25px #42526c;transform:scaleX(0.7068);text-shadow:0.59px 0 0 #42526c,-0.59px 0 0 #42526c;">20,4%</span>
<span style="position:absolute;white-space:nowrap;line-height:1;transform-origin:0 0;left:682.70px;top:514.90px;font-family:'Liberation Sans',sans-serif;font-size:20.14px;font-weight:700;color:#42526c;-webkit-text-stroke:0.24px #42526c;transform:scaleX(0.6684);text-shadow:0.60px 0 0 #42526c,-0.60px 0 0 #42526c;">21,9%</span>
<span style="position:absolute;white-space:nowrap;line-height:1;transform-origin:0 0;left:600.70px;top:537.50px;font-family:'Liberation Sans',sans-serif;font-size:22.55px;font-weight:700;color:#42526c;-webkit-text-stroke:0.27px #42526c;transform:scaleX(0.6781);text-shadow:0.67px 0 0 #42526c,-0.67px 0 0 #42526c;">26,9%</span>
</div></body></html>
